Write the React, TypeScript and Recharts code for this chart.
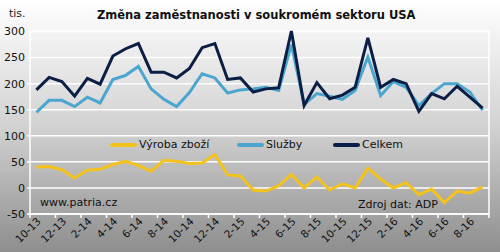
import { LineChart, Line, XAxis, YAxis, CartesianGrid } from "recharts";

const months = [
  "10-13", "11-13", "12-13", "1-14", "2-14", "3-14", "4-14", "5-14", "6-14", "7-14", "8-14", "9-14",
  "10-14", "11-14", "12-14", "1-15", "2-15", "3-15", "4-15", "5-15", "6-15", "7-15", "8-15", "9-15",
  "10-15", "11-15", "12-15", "1-16", "2-16", "3-16", "4-16", "5-16", "6-16", "7-16", "8-16", "9-16",
];

const vyroba = [40, 41, 35, 19, 34, 36, 45, 51, 43, 32, 53, 51, 47, 48, 64, 25, 23, -4, -6, 4, 26, 0, 21, -4, 8, 0, 38, 17, 0, 10, -13, -2, -28, -6, -10, 2];
const sluzby = [145, 168, 168, 156, 174, 163, 208, 216, 233, 190, 170, 156, 183, 219, 211, 182, 188, 190, 193, 187, 275, 160, 181, 176, 170, 187, 251, 177, 204, 193, 158, 181, 200, 200, 184, 149];
const celkem = [188, 212, 204, 176, 210, 199, 253, 267, 277, 222, 222, 211, 229, 269, 277, 208, 211, 184, 190, 192, 301, 158, 202, 171, 178, 193, 288, 193, 208, 200, 147, 181, 171, 195, 174, 153];

const yTicks = [-50, 0, 50, 100, 150, 200, 250, 300];

const W = 500;
const H = 252;
const MARGIN = { top: 31, right: 11, left: 0, bottom: 0 };
const Y_AXIS_W = 30;
const STEP = (W - MARGIN.left - MARGIN.right - Y_AXIS_W) / months.length;

const FONT = "'DejaVu Sans', Verdana, sans-serif";
const NAVY = "#0b1e45";
const BLUE = "#4ba6cf";
const YELLOW = "#f4c21c";

const data = months.map((m, i) => ({
  month: m,
  vyroba: vyroba[i],
  sluzby: sluzby[i],
  celkem: celkem[i],
}));

const MonthTick = ({ x, y, payload }: any) => {
  const isLast = payload.value === months[months.length - 2];
  return (
    <g transform={`translate(${x},${y})`}>
      <line x1={-STEP / 2} x2={-STEP / 2} y1={0} y2={4} stroke="#fff" strokeWidth={1.5} />
      {isLast && (
        <line x1={STEP * 1.5} x2={STEP * 1.5} y1={0} y2={4} stroke="#fff" strokeWidth={1.5} />
      )}
      <text
        x={5}
        y={8}
        transform="rotate(-45 5 8)"
        textAnchor="end"
        fontSize={10.5}
        fontFamily={FONT}
        fill="#111"
      >
        {payload.value}
      </text>
    </g>
  );
};

const legendItems = [
  { label: "Výroba zboží", color: YELLOW, left: 110 },
  { label: "Služby", color: BLUE, left: 237 },
  { label: "Celkem", color: NAVY, left: 333 },
];

export default function App() {
  return (
    <div
      style={{
        position: "absolute",
        left: 0,
        top: 0,
        width: W,
        height: H,
        background: "linear-gradient(to bottom, #ffffff 0%, #d2d2d2 50%, #8e8e8e 100%)",
        fontFamily: FONT,
        overflow: "hidden",
      }}
    >
      <div style={{ position: "absolute", left: 9, top: 8, fontSize: 11, lineHeight: "12px", color: "#222" }}>
        tis.
      </div>
      <div
        style={{
          position: "absolute",
          left: 97,
          top: 8,
          fontSize: 11.5,
          lineHeight: "14px",
          fontWeight: "bold",
          color: "#111",
        }}
      >
        Změna zaměstnanosti v soukromém sektoru USA
      </div>
      <LineChart width={W} height={H} data={data} margin={MARGIN}>
        <CartesianGrid
          stroke="#fff"
          strokeWidth={1.5}
          vertical={true}
          verticalCoordinatesGenerator={({ offset }: any) => [offset.left + offset.width]}
        />
        <XAxis
          dataKey="month"
          interval={1}
          height={H - 214}
          padding={{ left: STEP / 2, right: STEP / 2 }}
          tickLine={false}
          tickSize={0}
          tickMargin={0}
          axisLine={{ stroke: "#fff", strokeWidth: 1.5 }}
          tick={<MonthTick />}
        />
        <YAxis
          width={Y_AXIS_W}
          domain={[-50, 300]}
          ticks={yTicks}
          interval={0}
          tickSize={3}
          tickMargin={2}
          axisLine={{ stroke: "#fff", strokeWidth: 1.5 }}
          tickLine={{ stroke: "#fff", strokeWidth: 1.5 }}
          tick={{ fontSize: 11, fontFamily: FONT, fill: "#111" }}
        />
        <Line dataKey="sluzby" stroke={BLUE} strokeWidth={3} dot={false} isAnimationActive={false} />
        <Line dataKey="celkem" stroke={NAVY} strokeWidth={3} dot={false} isAnimationActive={false} />
        <Line dataKey="vyroba" stroke={YELLOW} strokeWidth={3} dot={false} isAnimationActive={false} />
      </LineChart>
      {legendItems.map((it) => (
        <div
          key={it.label}
          style={{
            position: "absolute",
            left: it.left,
            top: 139,
            display: "flex",
            alignItems: "center",
            fontSize: 11,
            lineHeight: "12px",
            color: "#111",
          }}
        >
          <span style={{ display: "inline-block", width: 27, height: 4, background: it.color, borderRadius: 2, marginRight: 2 }} />
          {it.label}
        </div>
      ))}
      <div style={{ position: "absolute", left: 40, top: 197, fontSize: 11, lineHeight: "12px", color: "#111" }}>
        www.patria.cz
      </div>
      <div style={{ position: "absolute", left: 358, top: 199, fontSize: 11, lineHeight: "12px", color: "#111" }}>
        Zdroj dat: ADP
      </div>
    </div>
  );
}
